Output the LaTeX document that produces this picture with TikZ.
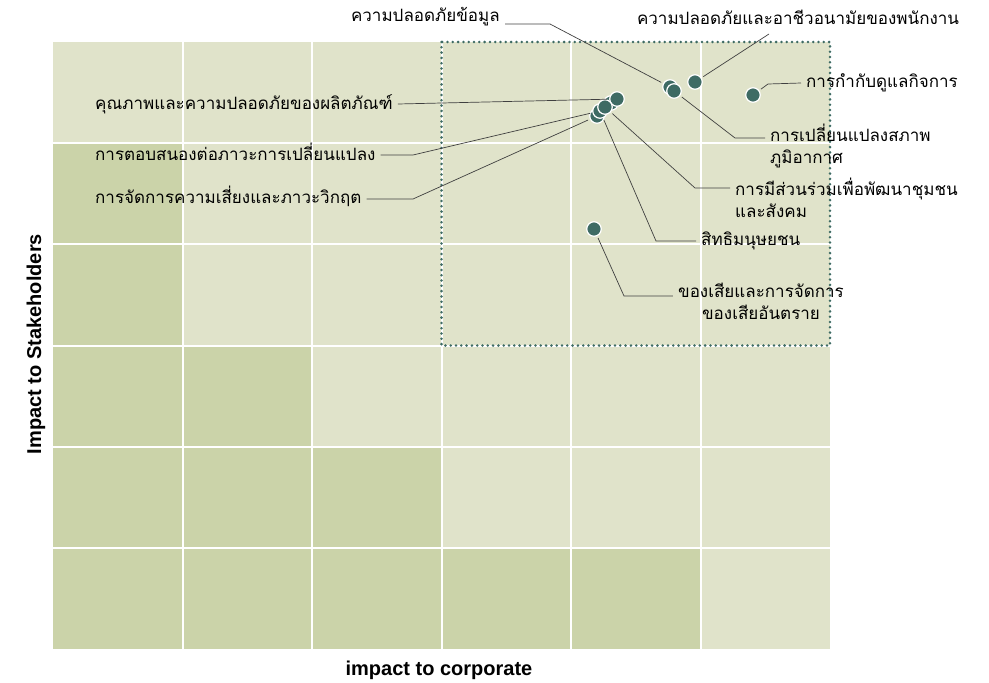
\documentclass[tikz,border=0pt]{standalone}
\usepackage{fontspec}
\setmainfont{Liberation Sans}
\newfontfamily\thaifont[Script=Thai]{Loma}
\definecolor{celllight}{HTML}{E0E3CA}
\definecolor{celldark}{HTML}{CBD3A9}
\definecolor{dotgreen}{HTML}{3E6B64}

\begin{document}
\begin{tikzpicture}[x=1pt,y=-1pt,
        dot/.style={circle, draw=white, line width=1.2pt, fill=dotgreen, minimum size=14.5pt, inner sep=0pt},
        lbl/.style={font=\thaifont\fontsize{17}{22}\selectfont, inner sep=5pt, text=black},
        leader/.style={draw=black!75, line width=0.7pt, shorten >=2pt},
        axislbl/.style={font=\bfseries\fontsize{20}{22}\selectfont}]
        \useasboundingbox (0,0) rectangle (989,683);

        \fill[celllight] (53,42) rectangle (830,649);
        \fill[celldark] (53,143) rectangle (182.5,345.5);
        \fill[celldark] (53,345.5) rectangle (312,446.7);
        \fill[celldark] (53,446.7) rectangle (441.5,547.8);
        \fill[celldark] (53,547.8) rectangle (700.5,649);
        \foreach \x in {182.5,312,441.5,571,700.5}
            \draw[white, line width=2pt] (\x,42) -- (\x,649);
        \foreach \y in {143,244.3,345.5,446.7,547.8}
            \draw[white, line width=2pt] (53,\y) -- (830,\y);
        \draw[dotgreen, line width=2.8pt, line cap=round, dash pattern=on 0pt off 5.3pt] (441.5,42) rectangle (830,345.5);

        \node[axislbl, rotate=90] (ylab) at (36,344) {Impact to Stakeholders};
        \node[axislbl] (xlab) at (439,670) {impact to corporate};

        \node[dot] (d1) at (670,87) {};
        \node[dot] (d2) at (674,91) {};
        \node[dot] (d3) at (695,82) {};
        \node[dot] (d4) at (753,95) {};
        \node[dot] (c2) at (611,103) {};
        \node[dot] (c1) at (617,99) {};
        \node[dot] (c5) at (597,116) {};
        \node[dot] (c4) at (600,111) {};
        \node[dot] (c3) at (605,107) {};
        \node[dot] (w) at (594,229) {};

        \node[lbl, anchor=east] (l1) at (505,17) {ความปลอดภัยข้อมูล};
        \node[lbl] (l2) at (798,17) {ความปลอดภัยและอาชีวอนามัยของพนักงาน};
        \node[lbl, anchor=west] (l3) at (801,83) {การกำกับดูแลกิจการ};
        \node[lbl, anchor=north west, align=left] (l4) at (765,119) {การเปลี่ยนแปลงสภาพ\\ภูมิอากาศ};
        \node[lbl, anchor=north west, align=left] (l5) at (730,173) {การมีส่วนร่วมเพื่อพัฒนาชุมชน\\และสังคม};
        \node[lbl, anchor=west] (l6) at (696,241) {สิทธิมนุษยชน};
        \node[lbl, anchor=north, align=center] (l7) at (761,278) {ของเสียและการจัดการ\\ของเสียอันตราย};
        \node[lbl, anchor=west] (l8) at (90,104) {คุณภาพและความปลอดภัยของผลิตภัณฑ์};
        \node[lbl, anchor=west] (l9) at (90,152) {การตอบสนองต่อภาวะการเปลี่ยนแปลง};
        \node[lbl, anchor=west] (l10) at (90,196) {การจัดการความเสี่ยงและภาวะวิกฤต};

        \coordinate (k1) at (550,24);
        \coordinate (k2) at (769,34);
        \coordinate (k3) at (768,84);
        \coordinate (k4) at (735,138);
        \coordinate (k5) at (695,188);
        \coordinate (k6) at (656,241);
        \coordinate (k7) at (624,296);
        \coordinate (k9) at (413,155);
        \coordinate (k10) at (413,199);

        \draw[leader] (l1.east |- k1) -- (k1) -- (d1);
        \draw[leader] (k2) -- (d3);
        \draw[leader] (l3.west) -- (k3) -- (d4);
        \draw[leader] (l4.west |- k4) -- (k4) -- (d2);
        \draw[leader] (l5.west |- k5) -- (k5) -- (c3);
        \draw[leader] (l6.west) -- (k6) -- (c4);
        \draw[leader] (l7.west |- k7) -- (k7) -- (w);
        \draw[leader] (l8.east) -- (c1);
        \draw[leader] (l9.east |- k9) -- (k9) -- (c4);
        \draw[leader] (l10.east |- k10) -- (k10) -- (c5);

    \end{tikzpicture}
\end{document}
